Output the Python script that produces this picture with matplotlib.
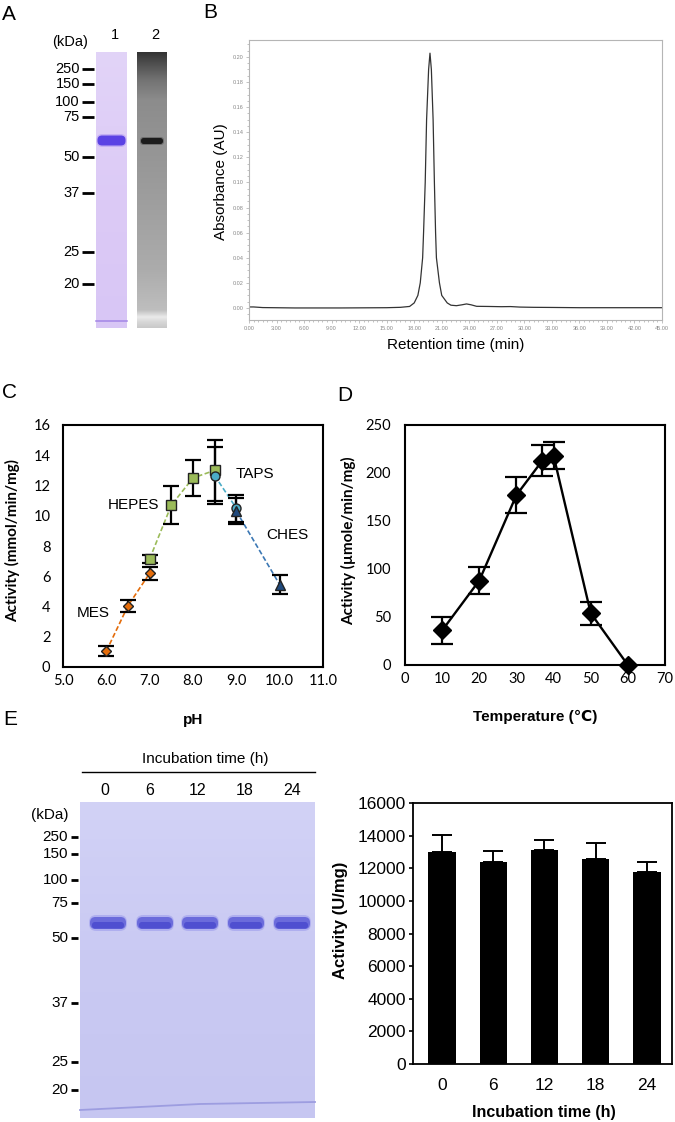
import numpy as np
import matplotlib
matplotlib.use('Agg')
import matplotlib.pyplot as plt
from matplotlib.patches import FancyBboxPatch
from matplotlib.ticker import MultipleLocator, FormatStrFormatter

ARIAL = ['Liberation Sans', 'DejaVu Sans']
CALIBRI = ['Lato', 'DejaVu Sans']
plt.rcParams['font.family'] = ARIAL

# ---- panel A / E gels: marker ladders (kDa) and their y position in the figure (px)
ladder = ['250', '150', '100', '75', '50', '37', '25', '20']
ladder_y_a = [69, 84, 102, 117, 157, 193, 252, 284]
ladder_y_e = [837, 854, 880, 903, 938, 1003, 1062, 1090]
gel_lanes_e = ['0', '6', '12', '18', '24']

# ---- panel B: SEC chromatogram
rt_min = [0, 0.5, 1.5, 5, 10, 15, 16.5, 17.5, 18.0, 18.4, 18.66, 18.92, 19.02,
          19.2, 19.35, 19.57, 19.72, 19.87, 20.06, 20.2, 20.33, 20.42, 20.75,
          21.0, 21.6, 22.0, 22.6, 23.2, 23.7, 24.2, 24.8, 26, 27.5, 28.5,
          29.5, 31, 33, 36, 45]
absorb = [0.0008, 0.0008, 0.0003, 0.0, 0.0, 0.0002, 0.0005, 0.0012, 0.004,
          0.010, 0.02, 0.04, 0.06, 0.10, 0.15, 0.19, 0.203, 0.19, 0.15, 0.10,
          0.06, 0.04, 0.02, 0.01, 0.004, 0.0022, 0.0018, 0.0025, 0.0032,
          0.0025, 0.0013, 0.0012, 0.001, 0.0011, 0.0007, 0.0005, 0.0004,
          0.0002, 0.0002]

# ---- panel C: pH profile, one series per buffer
mes_ph, mes_act, mes_err = [6.0, 6.5, 7.0], [1.05, 4.05, 6.2], [0.35, 0.4, 0.42]
hepes_ph, hepes_act, hepes_err = [7.0, 7.5, 8.0, 8.5], [7.15, 10.7, 12.5, 13.0], [0.27, 1.25, 1.2, 2.0]
taps_ph, taps_act, taps_err = [8.5, 9.0], [12.65, 10.5], [1.9, 0.9]
ches_ph, ches_act, ches_err = [9.0, 10.0], [10.3, 5.45], [0.85, 0.65]

# ---- panel D: temperature profile
temp_c = [10, 20, 30, 37, 40, 50, 60]
temp_act = [36, 88, 177, 213, 218, 54, 0]
temp_err = [14, 14, 19, 16, 14, 12, 0]

# ---- panel E: stability over incubation time
inc_time = ['0', '6', '12', '18', '24']
inc_act = [12970, 12380, 13140, 12560, 11770]
inc_err = [1080, 650, 610, 990, 620]

W, H = 675, 1122
fig = plt.figure(figsize=(W / 100, H / 100), dpi=100)


def rect(l, t, r, b):
    return [l / W, 1 - b / H, (r - l) / W, (b - t) / H]


bg = fig.add_axes([0, 0, 1, 1])
bg.set_xlim(0, W)
bg.set_ylim(H, 0)
bg.axis('off')


def lane(l, t, r, b, stops):
    ys = np.arange(t, b) + 0.5
    sy = [s[0] for s in stops]
    img = np.zeros((len(ys), 2, 3))
    for c in range(3):
        img[:, :, c] = np.interp(ys, sy, [s[1][c] for s in stops])[:, None] / 255
    bg.imshow(img, extent=(l, r, b, t), aspect='auto', interpolation='bilinear', zorder=0)


def band(x0, y0, w, h, color, alpha=1.0):
    bg.add_patch(FancyBboxPatch((x0, y0), w, h, boxstyle='round,pad=0,rounding_size=%g' % (h / 2.2),
                                fc=color, ec='none', alpha=alpha, zorder=2))


# ---------------- A
bg.text(2, 14, 'A', fontsize=15, va='center', ha='left')
lane(96, 52, 127, 328, [(52, (226, 212, 248)), (200, (220, 202, 246)), (328, (216, 198, 245))])
lane(137, 52, 167, 328, [(52, (50, 50, 50)), (62, (75, 75, 75)), (80, (115, 115, 115)),
                         (100, (140, 140, 140)), (200, (158, 158, 158)), (270, (172, 172, 172)),
                         (310, (190, 190, 190)), (317, (235, 235, 235)), (322, (215, 215, 215)),
                         (328, (200, 200, 200))])
band(96.5, 134, 30, 13, '#b9a3f3', 0.7)
band(97.5, 135.5, 28, 10, '#5b42e4')
band(140, 137, 24, 8, '#555555', 0.6)
band(141, 138, 22, 6, '#1c1c1c')
bg.plot([96, 127], [320.5, 320.5], color='#9b7be3', lw=1.2, alpha=0.8, zorder=3)
bg.text(70, 42, '(kDa)', fontsize=10.5, ha='center', va='center')
bg.text(115, 35, '1', fontsize=10.5, ha='center', va='center')
bg.text(155, 35, '2', fontsize=10.5, ha='center', va='center')
for lab, y in zip(ladder, ladder_y_a):
    bg.text(80, y, lab, fontsize=10.5, ha='right', va='center')
    bg.plot([82, 94], [y, y], color='black', lw=2, solid_capstyle='butt')

# ---------------- B
bg.text(203, 12, 'B', fontsize=15, va='center', ha='left')
axb = fig.add_axes(rect(249, 40, 662, 320))
axb.plot(rt_min, absorb, color='#333333', lw=0.9)
axb.set_xlim(0, 45)
axb.set_ylim(-0.0096, 0.2135)
axb.xaxis.set_major_locator(MultipleLocator(3))
axb.xaxis.set_minor_locator(MultipleLocator(0.5))
axb.yaxis.set_major_locator(MultipleLocator(0.02))
axb.yaxis.set_minor_locator(MultipleLocator(0.005))
axb.xaxis.set_major_formatter(FormatStrFormatter('%.2f'))
axb.yaxis.set_major_formatter(FormatStrFormatter('%.2f'))
for s in axb.spines.values():
    s.set_color('#b5b5b5')
    s.set_linewidth(0.8)
axb.tick_params(which='both', direction='out', color='#aaaaaa', labelcolor='#888888',
                labelsize=4, pad=1.5, width=0.5)
axb.tick_params(which='major', length=2.5)
axb.tick_params(which='minor', length=1.2)
bg.text(221, 182, 'Absorbance (AU)', fontsize=11, rotation=90, ha='center', va='center')
bg.text(456, 345, 'Retention time (min)', fontsize=11, ha='center', va='center')

# ---------------- C
bg.text(2, 392, 'C', fontsize=15, va='center', ha='left')
axc = fig.add_axes(rect(63, 425, 323, 667))
series_c = [
    (mes_ph, mes_act, mes_err, 'D', 5.5, '#E46C0A', '#E46C0A'),
    (hepes_ph, hepes_act, hepes_err, 's', 6.5, '#9BBB59', '#9BBB59'),
    (taps_ph, taps_act, taps_err, 'o', 6.5, '#4BACC6', '#4BACC6'),
    (ches_ph, ches_act, ches_err, '^', 6.5, '#1F497D', '#3C78B4'),
]
for ph, act, err, mk, ms, fc, lc in series_c:
    axc.plot(ph, act, color=lc, lw=1.2, ls=(0, (3, 1.5)), zorder=2)
    axc.errorbar(ph, act, yerr=err, fmt='none', ecolor='black', elinewidth=1.6,
                 capsize=6, capthick=1.6, zorder=3)
    axc.plot(ph, act, ls='none', marker=mk, ms=ms, mfc=fc, mec='#222222', mew=1.0, zorder=4)
axc.set_xlim(5, 11)
axc.set_ylim(0, 16)
axc.set_xticks(np.arange(5, 11.5, 1))
axc.set_yticks(np.arange(0, 17, 2))
axc.xaxis.set_major_formatter(FormatStrFormatter('%.1f'))
for s in axc.spines.values():
    s.set_linewidth(1.5)
axc.tick_params(length=0, labelsize=10.5)
axc.tick_params(axis='y', pad=9)
axc.tick_params(axis='x', pad=5)
for t in axc.get_xticklabels() + axc.get_yticklabels():
    t.set_family(CALIBRI)
for txt, x, y in [('MES', 5.7, 3.55), ('HEPES', 6.62, 10.7), ('TAPS', 9.43, 12.75), ('CHES', 10.17, 8.7)]:
    axc.text(x, y, txt, fontsize=11, ha='center', va='center')
bg.text(13, 540, 'Activity (mmol/min/mg)', fontsize=11, fontweight='bold', family=CALIBRI,
        rotation=90, ha='center', va='center')
bg.text(193, 720, 'pH', fontsize=11, fontweight='bold', ha='center', va='center')

# ---------------- D
bg.text(337, 395, 'D', fontsize=15, va='center', ha='left')
axd = fig.add_axes(rect(405, 425, 665, 665))
axd.plot(temp_c, temp_act, color='black', lw=1.7, zorder=2)
axd.errorbar(temp_c[:-1], temp_act[:-1], yerr=temp_err[:-1], fmt='none', ecolor='black',
             elinewidth=1.6, capsize=8, capthick=1.6, zorder=3)
axd.plot(temp_c, temp_act, ls='none', marker='D', ms=9.5, color='black', zorder=4, clip_on=False)
axd.set_xlim(0, 70)
axd.set_ylim(0, 250)
axd.set_xticks(np.arange(0, 71, 10))
axd.set_yticks(np.arange(0, 251, 50))
for s in axd.spines.values():
    s.set_linewidth(1.5)
axd.tick_params(length=0, labelsize=10.5)
axd.tick_params(axis='y', pad=10)
axd.tick_params(axis='x', pad=5)
for t in axd.get_xticklabels() + axd.get_yticklabels():
    t.set_family(CALIBRI)
bg.text(349, 541, 'Activity (\u00b5mole/min/mg)', fontsize=11, fontweight='bold', family=CALIBRI,
        rotation=90, ha='center', va='center')
bg.text(535, 717, 'Temperature (\u2103)', fontsize=11, fontweight='bold',
        family=['Liberation Sans', 'DejaVu Sans'], ha='center', va='center')

# ---------------- E gel
bg.text(3, 719, 'E', fontsize=15, va='center', ha='left')
lane(80, 802, 315, 1118, [(802, (210, 210, 246)), (950, (202, 202, 243)), (1118, (198, 198, 241))])
lane_x = [108, 155, 200, 246, 292]
for x in lane_x:
    band(x - 19, 915, 38, 16, '#a9a9ee', 0.8)
    band(x - 18, 917, 36, 12, '#6b6bdb')
    band(x - 16, 922, 32, 6.5, '#4f4fd0')
bg.plot([80, 200, 315], [1110, 1104, 1102], color='#9d9de0', lw=1.3, zorder=3)
bg.text(205, 759, 'Incubation time (h)', fontsize=11, ha='center', va='center')
bg.plot([82, 315], [772, 772], color='black', lw=1)
for lab, x in zip(gel_lanes_e, [105, 150, 198, 245, 292]):
    bg.text(x, 790, lab, fontsize=11.5, ha='center', va='center')
bg.text(50, 815, '(kDa)', fontsize=11, ha='center', va='center')
for lab, y in zip(ladder, ladder_y_e):
    bg.text(68, y, lab, fontsize=11, ha='right', va='center')
    bg.plot([71, 78], [y, y], color='black', lw=2, solid_capstyle='butt')

# ---------------- E bars
axe = fig.add_axes(rect(413, 803, 672, 1064))
xe = np.arange(len(inc_time))
axe.bar(xe, inc_act, width=0.54, color='black', zorder=2)
axe.errorbar(xe, inc_act, yerr=[np.zeros(len(inc_err)), inc_err], fmt='none', ecolor='black',
             elinewidth=1.4, capsize=7, capthick=1.4, zorder=3)
axe.set_xlim(-0.573, 4.495)
axe.set_ylim(0, 16000)
axe.set_yticks(np.arange(0, 16001, 2000))
axe.set_xticks(xe)
axe.set_xticklabels(inc_time)
for s in axe.spines.values():
    s.set_linewidth(1.3)
axe.tick_params(axis='y', direction='out', length=3, width=1.2, labelsize=12.5, pad=2)
axe.tick_params(axis='x', length=0, labelsize=12.5, pad=10)
bg.text(340, 920, 'Activity (U/mg)', fontsize=12, fontweight='bold', rotation=90,
        ha='center', va='center')
bg.text(544, 1112, 'Incubation time (h)', fontsize=11.5, fontweight='bold', ha='center', va='center')

fig.savefig('out.png', dpi=100)
